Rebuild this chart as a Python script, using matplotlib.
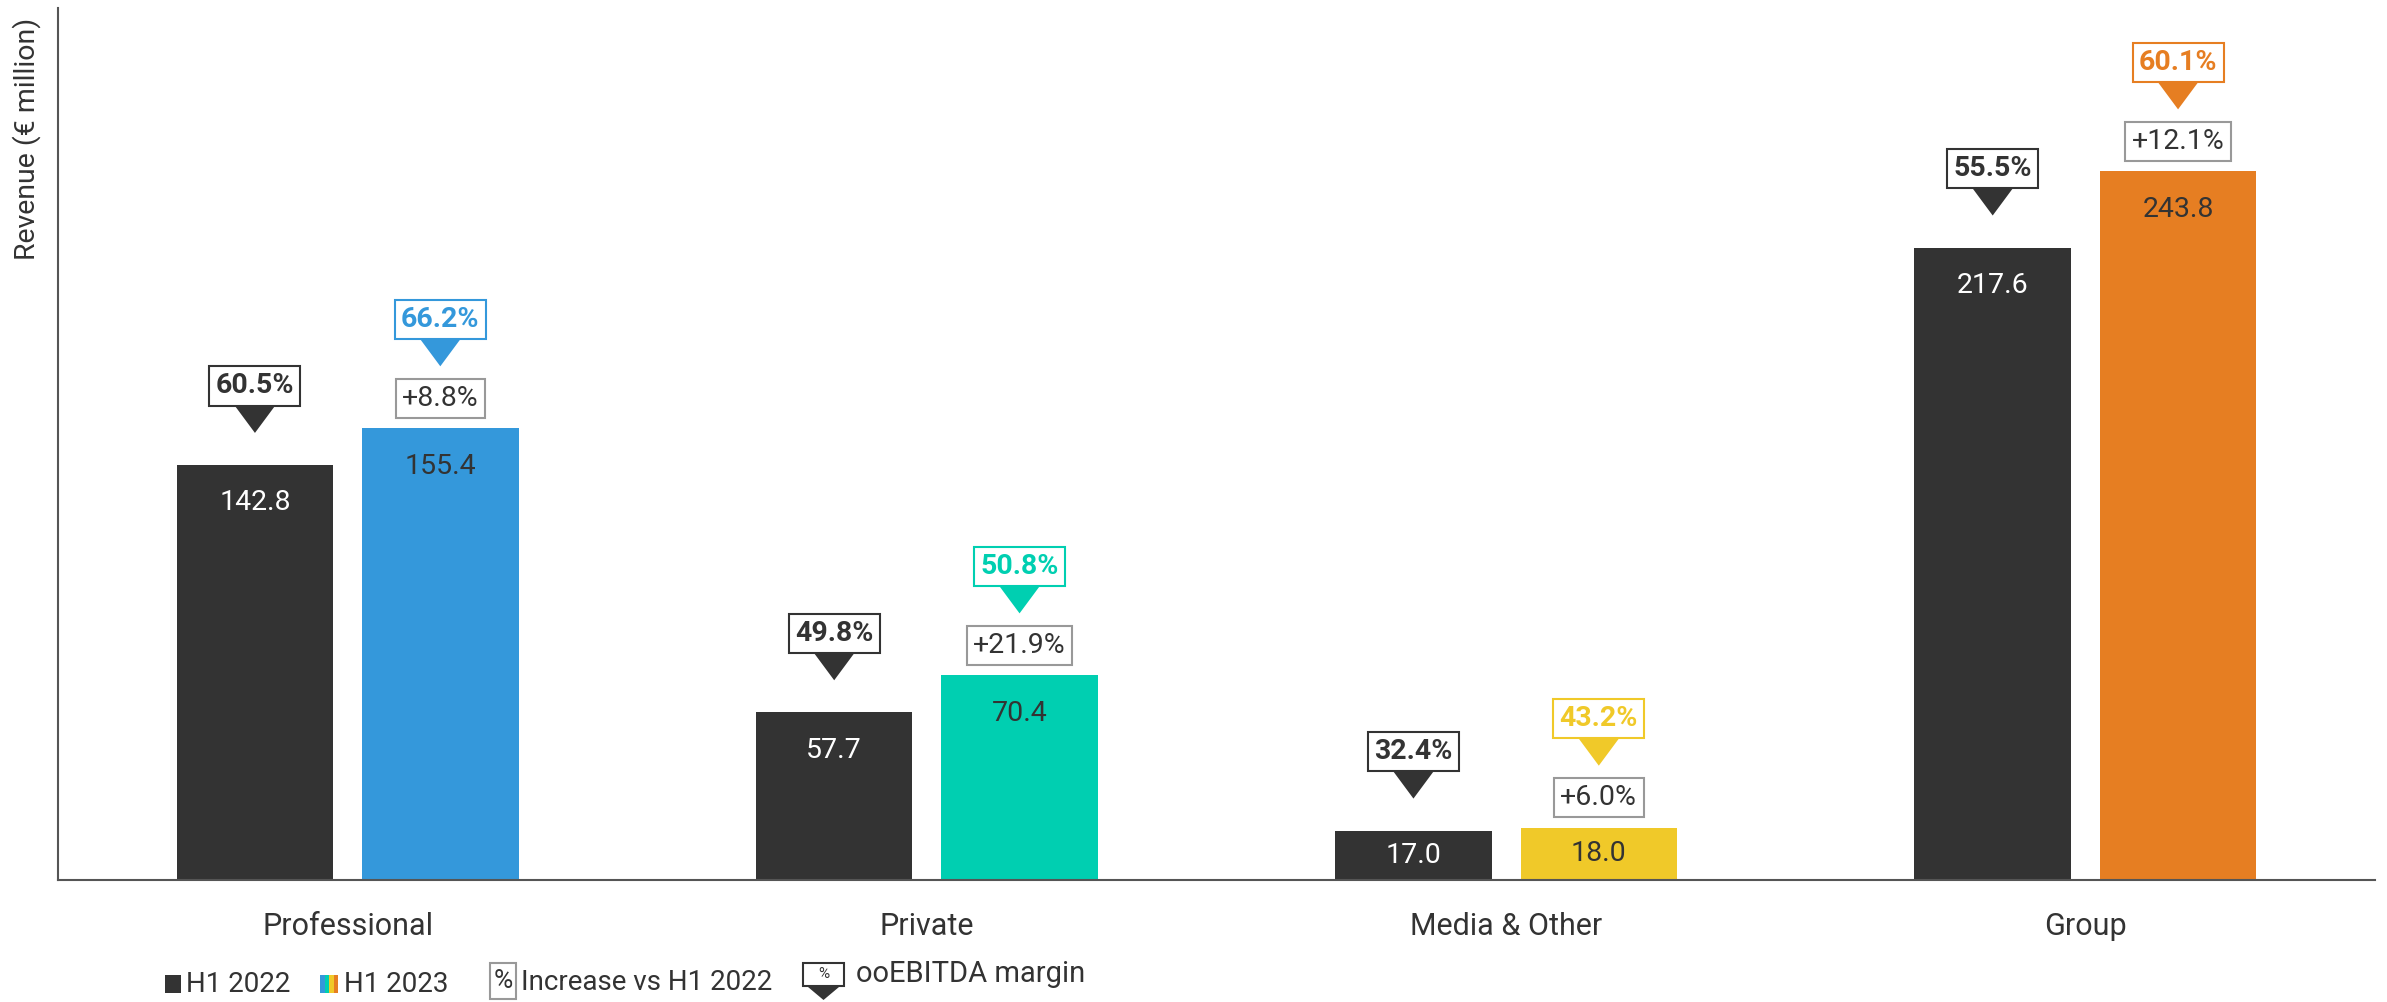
import numpy as np
import matplotlib.pyplot as plt
from matplotlib import transforms
from matplotlib.patches import Polygon, Rectangle

plt.rcParams['font.family'] = ['Roboto', 'DejaVu Sans']

categories = ["Professional", "Private", "Media & Other", "Group"]
h1_2022 = [142.8, 57.7, 17.0, 217.6]
h1_2023 = [155.4, 70.4, 18.0, 243.8]
margin_2022 = ["60.5%", "49.8%", "32.4%", "55.5%"]
margin_2023 = ["66.2%", "50.8%", "43.2%", "60.1%"]
increase = ["+8.8%", "+21.9%", "+6.0%", "+12.1%"]
colors_2023 = ["#3498db", "#00cfb1", "#f0c929", "#e67e22"]
dark = "#333333"
grey = "#999999"

W, H = 2387, 1002
fig = plt.figure(figsize=(W / 100, H / 100), dpi=100)
ax = fig.add_axes([58 / W, 122 / H, 2317 / W, 872 / H])

x = np.arange(len(categories))
w = 0.27
off = 0.16
ax.bar(x - off, h1_2022, w, color=dark)
ax.bar(x + off, h1_2023, w, color=colors_2023)
ax.set_xlim(-0.5, 3.5)
ax.set_ylim(0, 300)
ax.set_xticks(x, categories, fontsize=22, color=dark)
ax.tick_params(axis='x', length=0, pad=23)
ax.set_yticks([])
for s in ['top', 'right']:
    ax.spines[s].set_visible(False)
for s in ['left', 'bottom']:
    ax.spines[s].set_color('#555555')
    ax.spines[s].set_linewidth(1.5)

px_per_unit = 872 / 300


def box_label(xc, yv, dy, text, color, edge, weight):
    ax.annotate(text, (xc, yv), xytext=(0, dy), textcoords='offset pixels',
                ha='center', va='center', fontsize=20.5, color=color, fontweight=weight,
                bbox=dict(boxstyle='square,pad=0.22', fc='white', ec=edge, lw=1.5),
                annotation_clip=False)


def triangle(xc, yv, dy, color):
    # tip dy pixels above the bar top
    trans = fig.dpi_scale_trans + transforms.ScaledTranslation(xc, yv, ax.transData)
    verts = np.array([[0, dy], [-20, dy + 27], [20, dy + 27]]) / 100
    ax.add_patch(Polygon(verts, closed=True, transform=trans, fc=color, ec='none', clip_on=False))


def value_label(xc, v, color):
    if v * px_per_unit / 2 > 38:
        ax.annotate(f"{v:.1f}", (xc, v), xytext=(0, -38), textcoords='offset pixels',
                    ha='center', va='center', fontsize=20.5, color=color)
    else:
        ax.text(xc, v / 2, f"{v:.1f}", ha='center', va='center', fontsize=20.5, color=color)


for i in range(len(categories)):
    x0 = x[i] - off
    x1 = x[i] + off
    # H1 2022
    value_label(x0, h1_2022[i], 'white')
    triangle(x0, h1_2022[i], 32, dark)
    box_label(x0, h1_2022[i], 79, margin_2022[i], dark, dark, 'bold')
    # H1 2023
    value_label(x1, h1_2023[i], dark)
    box_label(x1, h1_2023[i], 30, increase[i], dark, grey, 'normal')
    triangle(x1, h1_2023[i], 62, colors_2023[i])
    box_label(x1, h1_2023[i], 109, margin_2023[i], colors_2023[i], colors_2023[i], 'bold')

fig.text(27 / W, 1 - 139 / H, "Revenue (€ million)", rotation=90, ha='center', va='center',
         fontsize=20.5, color=dark)

# legend drawn in pixel coordinates
lg = fig.add_axes([0, 0, 1, 1])
lg.set_xlim(0, W)
lg.set_ylim(H, 0)
lg.axis('off')
lg.add_patch(Rectangle((165, 975), 16, 18, fc=dark, ec='none'))
lg.text(186, 984, "H1 2022", fontsize=20, color=dark, va='center', ha='left')
for k, c in enumerate(colors_2023):
    lg.add_patch(Rectangle((320 + k * 4.5, 975), 4.5, 18, fc=c, ec='none'))
lg.text(344, 984, "H1 2023", fontsize=20, color=dark, va='center', ha='left')
lg.add_patch(Rectangle((490, 963), 26, 36, fc='white', ec=grey, lw=1.5))
lg.text(503, 981, "%", fontsize=19, color=dark, va='center', ha='center')
lg.text(521, 982, "Increase vs H1 2022", fontsize=20, color=dark, va='center', ha='left')
lg.add_patch(Rectangle((803, 963), 41, 23, fc='white', ec=dark, lw=1.5))
lg.text(823.5, 974.5, "%", fontsize=11, color=dark, va='center', ha='center')
lg.add_patch(Polygon([[808, 987], [839, 987], [823.5, 1000]], closed=True, fc=dark, ec='none'))
lg.text(856, 974, "ooEBITDA margin", fontsize=21, color=dark, va='center', ha='left')

fig.savefig("out.png", dpi=100)
